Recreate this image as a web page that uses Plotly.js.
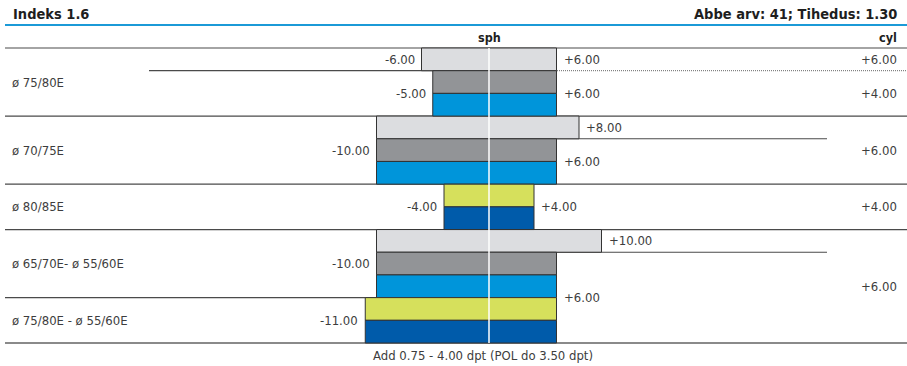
<!DOCTYPE html>
<html><head><meta charset="utf-8">
<script src="https://cdn.plot.ly/plotly-3.0.1.min.js"></script>
<style>html,body{margin:0;padding:0;background:#fff}</style>
</head><body><div id="chart" style="width:907px;height:366px"></div>
<script>
// ---------- data ----------
const titleLeft = 'Indeks 1.6';
const titleRight = 'Abbe arv: 41; Tihedus: 1.30';
const headerSph = 'sph';
const headerCyl = 'cyl';
const footer = 'Add 0.75 - 4.00 dpt (POL do 3.50 dpt)';
const groupLabels = ['ø 75/80E', 'ø 70/75E', 'ø 80/85E', 'ø 65/70E- ø 55/60E', 'ø 75/80E - ø 55/60E'];
// rows (sub-rows of the table) -> group, and cyl value per row
const rowGroup = [0, 0, 1, 2, 3, 4];
const rowCyl   = [6, 4, 6, 4, 6, 6];
// bars, top to bottom
const barRow  = [0, 1, 1, 2, 2, 2, 3, 3, 4, 4, 4, 5, 5];
const barKind = ['light', 'gray', 'blue', 'light', 'gray', 'blue', 'lime', 'navy', 'light', 'gray', 'blue', 'lime', 'navy'];
const sphMin  = [-6, -5, -5, -10, -10, -10, -4, -4, -10, -10, -10, -11, -11];
const sphMax  = [6, 6, 6, 8, 6, 6, 4, 4, 10, 6, 6, 6, 6];

// ---------- styles / geometry ----------
const kindColor = {light: '#dcdde0', gray: '#929497', blue: '#0095da', lime: '#d6e05c', navy: '#005baa'};
const FONT = '"DejaVu Sans Condensed", "Liberation Sans Narrow", sans-serif';
const W = 907, H = 366;
const X0 = 489, K = 11.25;           // pixel of sph 0, pixels per dpt
const TOP = 48, SLOT = 295 / 13;     // first slot top pixel, slot height
const N = sphMin.length;
const px2x = p => (p - X0) / K;
const py2y = p => (p - TOP) / SLOT - 0.5;
const fmt = v => (v > 0 ? '+' : '') + v.toFixed(2);
const txtColor = '#3d3d3d';
const lineColor = '#4a4a4a';
const LS = 13;   // label font size

// ---------- traces ----------
const kinds = [...new Set(barKind)];
const traces = kinds.map(k => {
  const idx = barKind.map((b, i) => b === k ? i : -1).filter(i => i >= 0);
  return {
    type: 'bar', orientation: 'h',
    y: idx, base: idx.map(i => sphMin[i]), x: idx.map(i => sphMax[i] - sphMin[i]),
    width: 1,
    marker: {color: kindColor[k], line: {color: '#333', width: 1}},
    hoverinfo: 'skip', showlegend: false
  };
});

// ---------- shapes ----------
const shapes = [];
const hline = (y, x0, x1, opts) => shapes.push(Object.assign({
  type: 'line', xref: 'x', yref: 'y', x0: x0, x1: x1, y0: y, y1: y, layer: 'below',
  line: {color: lineColor, width: 1.2}
}, opts || {}));
// blue title rule
shapes.push({type: 'line', xref: 'paper', yref: 'paper', x0: 5 / W, x1: 1, y0: 1 - 25 / H, y1: 1 - 25 / H,
  line: {color: '#1b9ad7', width: 2}});
// header rule
hline(-0.5, px2x(5), px2x(W));
// cyl blocks: consecutive rows with equal cyl merged
const rowBlock = []; let blk = 0;
rowCyl.forEach((c, r) => { if (r > 0 && c !== rowCyl[r - 1]) blk++; rowBlock.push(blk); });
for (let i = 0; i < N - 1; i++) {
  const b = i + 0.5;
  const rA = barRow[i], rB = barRow[i + 1];
  const gChange = rowGroup[rA] !== rowGroup[rB];
  const rChange = rA !== rB;
  const cChange = rowBlock[rA] !== rowBlock[rB];
  // left part
  if (gChange) hline(b, px2x(5), 0);
  else if (rChange) hline(b, px2x(149), 0);
  // right part
  if (cChange) hline(b, 0, px2x(W), gChange ? {} : {line: {color: '#666', width: 1, dash: '1px,1px'}});
  else if (sphMax[i] !== sphMax[i + 1]) hline(b, 0, px2x(827));
}
// bottom rule
hline(N - 0.5, px2x(5), px2x(W), {line: {color: '#8a8a8a', width: 2}});
// centre white line
shapes.push({type: 'line', xref: 'x', yref: 'y', x0: 0, x1: 0, y0: -0.5, y1: N - 0.5, layer: 'above',
  line: {color: '#ffffff', width: 1.5}});

// ---------- annotations ----------
const ann = [];
const lab = (o) => ann.push(Object.assign({showarrow: false, font: {family: FONT, size: LS, color: txtColor}}, o));
const bold = (s) => ({family: FONT, size: s, color: '#1e1e1e'});
lab({text: '<b>' + titleLeft + '</b>', xref: 'paper', yref: 'paper', x: 11 / W, y: 1 - 14 / H, xanchor: 'left', yanchor: 'middle', font: bold(14.5)});
lab({text: '<b>' + titleRight + '</b>', xref: 'paper', yref: 'paper', x: 899 / W, y: 1 - 14 / H, xanchor: 'right', yanchor: 'middle', font: bold(14.5)});
lab({text: '<b>' + headerSph + '</b>', xref: 'x', yref: 'y', x: 0, y: py2y(37), xanchor: 'center', yanchor: 'middle', font: bold(12.5)});
lab({text: '<b>' + headerCyl + '</b>', xref: 'paper', yref: 'y', x: 899 / W, y: py2y(37), xanchor: 'right', yanchor: 'middle', font: bold(12.5)});
lab({text: footer, xref: 'paper', yref: 'paper', x: 483 / W, y: 1 - 355 / H, xanchor: 'center', yanchor: 'middle'});

// group labels
groupLabels.forEach((g, gi) => {
  const slots = [];
  for (let i = 0; i < N; i++) if (rowGroup[barRow[i]] === gi) slots.push(i);
  const yc = (slots[0] + slots[slots.length - 1]) / 2;
  lab({text: g, xref: 'paper', yref: 'y', x: 10 / W, y: yc, xanchor: 'left', yanchor: 'middle'});
});
// sph min labels: merge equal consecutive within a row
for (let i = 0; i < N; ) {
  let j = i;
  while (j + 1 < N && barRow[j + 1] === barRow[i] && sphMin[j + 1] === sphMin[i]) j++;
  lab({text: fmt(sphMin[i]), xref: 'x', yref: 'y', x: sphMin[i], y: (i + j) / 2, xanchor: 'right', yanchor: 'middle', xshift: -5});
  i = j + 1;
}
// sph max labels: merge equal consecutive within a cyl block
for (let i = 0; i < N; ) {
  let j = i;
  while (j + 1 < N && rowBlock[barRow[j + 1]] === rowBlock[barRow[i]] && sphMax[j + 1] === sphMax[i]) j++;
  lab({text: fmt(sphMax[i]), xref: 'x', yref: 'y', x: sphMax[i], y: (i + j) / 2, xanchor: 'left', yanchor: 'middle', xshift: 5});
  i = j + 1;
}
// cyl labels per block
for (let i = 0; i < N; ) {
  let j = i;
  while (j + 1 < N && rowBlock[barRow[j + 1]] === rowBlock[barRow[i]]) j++;
  lab({text: fmt(rowCyl[barRow[i]]), xref: 'paper', yref: 'y', x: 899 / W, y: (i + j) / 2, xanchor: 'right', yanchor: 'middle'});
  i = j + 1;
}

const layout = {
  width: W, height: H, margin: {l: 0, r: 0, t: 0, b: 0},
  paper_bgcolor: '#fff', plot_bgcolor: '#fff',
  barmode: 'overlay', hovermode: false, showlegend: false,
  xaxis: {range: [px2x(0), px2x(W)], visible: false, fixedrange: true},
  yaxis: {range: [py2y(H), py2y(0)], visible: false, fixedrange: true},
  shapes: shapes, annotations: ann
};
Plotly.newPlot('chart', traces, layout, {displayModeBar: false, staticPlot: true});
</script>
</body></html>
